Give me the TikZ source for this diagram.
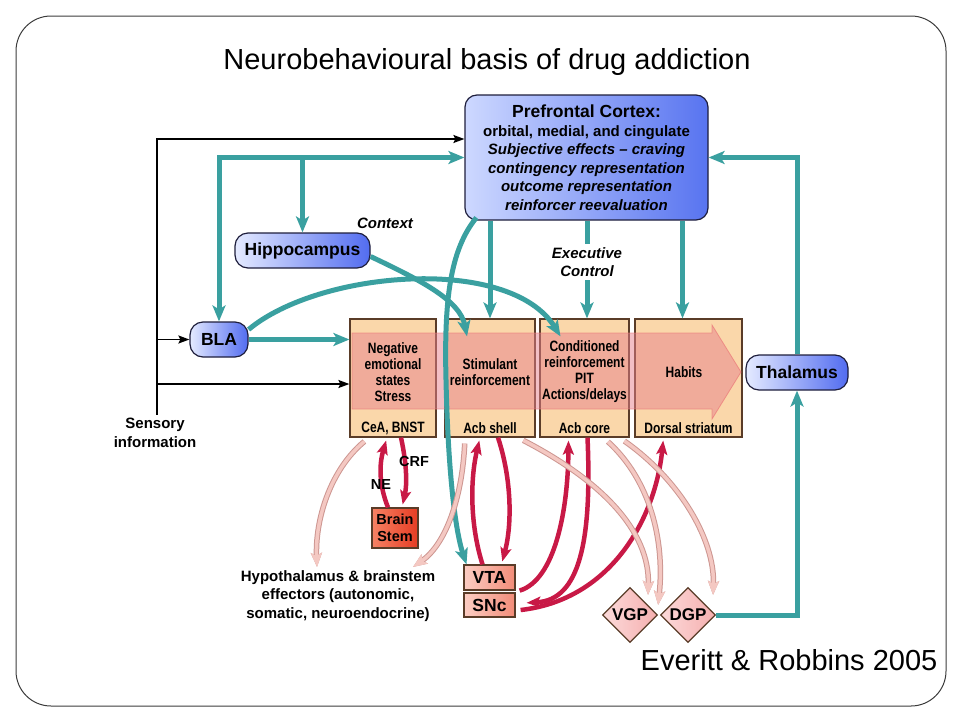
\documentclass[tikz,border=0pt]{standalone}
\usepackage{fontspec}
\setmainfont{Liberation Sans}
\newfontfamily\condfont[FakeStretch=0.8]{Liberation Sans}
\usetikzlibrary{arrows.meta,shapes.geometric}

\definecolor{tealline}{RGB}{58,160,160}
\definecolor{crimson}{RGB}{200,25,70}
\definecolor{pinkfill}{RGB}{244,200,194}
\definecolor{pinkedge}{RGB}{205,150,145}
\definecolor{tanfill}{RGB}{250,215,170}
\definecolor{brownline}{RGB}{90,60,40}
\definecolor{bluelight}{RGB}{228,234,255}
\definecolor{bluedark}{RGB}{82,108,240}
\definecolor{pfclight}{RGB}{205,216,255}
\definecolor{pfcdark}{RGB}{88,116,240}
\definecolor{navyline}{RGB}{30,30,60}
\definecolor{salmonlight}{RGB}{252,205,195}
\definecolor{salmondark}{RGB}{242,140,120}
\definecolor{stemlight}{RGB}{246,130,100}
\definecolor{stemdark}{RGB}{230,60,35}
\definecolor{diamlight}{RGB}{252,218,218}
\definecolor{diamdark}{RGB}{245,175,175}
\definecolor{arrowred}{RGB}{232,128,140}
\definecolor{arrowedge}{RGB}{235,120,120}
\definecolor{framegray}{RGB}{60,60,60}

\tikzset{
  tealtip/.tip={Stealth[length=16pt,width=13pt,inset=4pt]},
  tealarrow/.style={draw=tealline, line width=5pt, -tealtip},
  blackarrow/.style={draw=black, line width=1.8pt, -{Stealth[length=11pt,width=8pt,inset=2pt]}},
  redarrow/.style={draw=crimson, line width=4.5pt, -{Stealth[length=14pt,width=11pt,inset=3pt]}, shorten >=3pt},
  pinkarrow/.style={draw=pinkfill, line width=3.5pt, -{Stealth[length=14pt,width=11pt,inset=3pt]}, shorten <=6pt,
    preaction={draw=pinkedge, line width=5.5pt}},
  overlayarrow/.style={fill=arrowred, fill opacity=0.5, draw=arrowedge, draw opacity=0.7, line width=0.8pt},
  bluebox/.style={draw=navyline, line width=1.2pt, rounded corners=13pt, left color=bluelight, right color=bluedark,
    minimum height=35pt, inner sep=0pt, font=\fontsize{17.5}{20}\selectfont\bfseries},
  pfcbox/.style={draw=navyline, line width=1.2pt, rounded corners=12pt, left color=pfclight, right color=pfcdark,
    minimum width=243pt, minimum height=125pt, align=center, font=\fontsize{15}{18.5}\selectfont\bfseries},
  regionbox/.style={draw=brownline, fill=tanfill, line width=1.2pt, minimum height=118pt, inner sep=0pt},
  regiontext/.style={font=\condfont\fontsize{15}{16}\selectfont\bfseries, align=center},
  regionlabel/.style={font=\condfont\fontsize{15}{16}\selectfont\bfseries},
  namelabel/.style={font=\fontsize{15}{18.5}\selectfont\bfseries, align=center},
  italiclabel/.style={font=\fontsize{15}{18.5}\selectfont\bfseries\itshape, align=center},
  salmonbox/.style={draw=brownline, line width=1.2pt, left color=salmonlight, right color=salmondark,
    minimum width=51pt, inner sep=0pt, font=\fontsize{17.5}{20}\selectfont\bfseries},
  stembox/.style={draw=brownline, line width=1.2pt, left color=stemlight, right color=stemdark,
    minimum width=46pt, minimum height=40pt, inner sep=0pt, align=center, font=\fontsize{14.5}{17}\selectfont\bfseries},
  diamondbox/.style={diamond, aspect=1, draw=brownline, line width=1.2pt, left color=diamlight, right color=diamdark,
    minimum size=55pt, inner sep=0pt, font=\fontsize{17}{20}\selectfont\bfseries}
}

\begin{document}
\begin{tikzpicture}[x=1pt,y=-1pt]
\useasboundingbox (0,0) rectangle (960,720);
\draw[framegray, line width=1pt, rounded corners=35pt] (16,16) rectangle (946,706);

\node[font=\fontsize{29}{32}\selectfont, anchor=base] (title) at (487,69) {Neurobehavioural basis of drug addiction};
\node[font=\fontsize{29}{32}\selectfont, anchor=base] (cite) at (789,670) {Everitt \& Robbins 2005};

% striatal and amygdala regions
\foreach \n/\x/\w/\lab in {cea/393/86/{CeA, BNST}, shell/490/90/Acb shell, core/584.5/89/Acb core, dorsal/688.5/107/Dorsal striatum}{
  \node[regionbox, minimum width=\w pt] (\n) at (\x,378) {};
  \node[regionlabel] (\n-lab) at (\x,428) {\lab};
}
\draw[overlayarrow] (352,333) -- (712,333) -- (712,325) -- (741,372) -- (712,419) -- (712,409) -- (352,409) -- cycle;
\node[regiontext] (cea-text) at (393,372) {Negative\\emotional\\states\\Stress};
\node[regiontext] (shell-text) at (490,372) {Stimulant\\reinforcement};
\node[regiontext] (core-text) at (584.5,372) {Conditioned\\reinforcement\\PIT\\Actions/delays};
\node[regiontext] (dorsal-text) at (684,372) {Habits};

% cortical and limbic inputs
\node[pfcbox] (pfc) at (586.5,157.5) {{\fontsize{17.5}{18.5}\selectfont Prefrontal Cortex:}\\orbital, medial, and cingulate\\
  \itshape Subjective effects -- craving\\\itshape contingency representation\\\itshape outcome representation\\\itshape reinforcer reevaluation};
\node[bluebox, minimum width=135pt] (hippo) at (302.5,250.5) {Hippocampus};
\node[bluebox, minimum width=58pt] (bla) at (219,339.5) {BLA};
\node[bluebox, minimum width=102pt] (thal) at (797,372.5) {Thalamus};
\node[italiclabel] (context) at (385,223) {Context};
\node[italiclabel] (exec) at (587,262) {Executive\\Control};
\node[namelabel] (sens) at (155,433) {Sensory\\information};

% outputs
\node[namelabel] (hypo) at (338,596) {Hypothalamus \& brainstem\\effectors (autonomic,\\somatic, neuroendocrine)};
\node[stembox] (stem) at (395,528) {Brain\\Stem};
\node[salmonbox, minimum height=25pt] (vta) at (489.5,577.5) {VTA};
\node[salmonbox, minimum height=24pt] (snc) at (489.5,605) {SNc};
\node[diamondbox] (vgp) at (630,615) {VGP};
\node[diamondbox] (dgp) at (688,615) {DGP};

% sensory information
\coordinate (senstop) at (157,139);
\coordinate (ceain) at ([yshift=-6pt]cea.west);
\draw[blackarrow] (senstop |- sens.north) -- (senstop) -- (senstop -| pfc.west);
\draw[blackarrow] (senstop |- bla.west) -- (bla.west);
\draw[blackarrow] (senstop |- ceain) -- (ceain);

% teal projections
\coordinate (tealtop) at (bla.north |- pfc.west);
\draw[tealarrow, tealtip-tealtip] (pfc.west) -- (tealtop) -- (bla.north);
\draw[tealarrow] (hippo.north |- pfc.west) -- (hippo.north);
\draw[tealarrow] (bla.east) -- (bla.east -| cea.west);
\draw[tealarrow] ([yshift=10pt]bla.east) .. controls (320,270) and (510,255) .. ([xshift=-24pt,yshift=-18pt]core.north);
\draw[tealarrow] ([yshift=-6pt]hippo.east) .. controls (420,280) and (460,300) .. ([xshift=-23pt,yshift=-18pt]shell.north);
\draw[tealarrow] (pfc.south -| shell.north) -- (shell.north);
\draw[tealline, line width=5pt] (exec.north |- pfc.south) -- (exec.north);
\draw[tealarrow] (exec.south) -- (exec.south |- core.north);
\coordinate (dorsalin) at ([xshift=-6pt]dorsal.north);
\draw[tealarrow] (pfc.south -| dorsalin) -- (dorsalin);
\draw[tealarrow] ([xshift=12pt,yshift=3pt]pfc.south west) .. controls (450,250) and (444,300) .. (446,380)
  .. controls (448,470) and (455,530) .. ([xshift=-23pt]vta.north);
\draw[tealarrow] (thal.north) |- (pfc.east);
\draw[tealarrow] (dgp.east) -| (thal.south);

% dopamine and brainstem loops
\draw[redarrow] ([xshift=-7pt]stem.north) .. controls (379,485) and (379,465) .. ([xshift=-6pt]cea.south);
\draw[redarrow] ([xshift=8pt]cea.south) .. controls (407,465) and (407,485) .. ([xshift=7pt]stem.north);
\draw[redarrow] ([xshift=-7pt]vta.north) .. controls (470,525) and (470,480) .. ([xshift=-10pt]shell.south);
\draw[redarrow] ([xshift=8pt]shell.south) .. controls (512,480) and (512,525) .. ([xshift=12pt]vta.north);
\draw[redarrow] ([xshift=4pt]vta.south east) .. controls (555,580) and (568,510) .. ([xshift=-16pt]core.south);
\draw[redarrow] ([xshift=3pt]core.south) .. controls (592,540) and (580,600) .. ([xshift=8pt,yshift=2pt]snc.east);
\draw[redarrow] ([xshift=5pt,yshift=-5pt]snc.east) .. controls (610,600) and (655,520) .. ([xshift=-25pt]dorsal.south);
\node[namelabel, font=\fontsize{14.5}{16}\selectfont\bfseries] (crf) at (414,462) {CRF};
\node[namelabel, font=\fontsize{14.5}{16}\selectfont\bfseries] (ne) at (381,485) {NE};

% striatal outputs
\draw[pinkarrow] ([xshift=-24pt]cea.south) .. controls (330,470) and (315,520) .. ([xshift=-21pt]hypo.north);
\draw[pinkarrow] ([xshift=-25pt]shell.south) .. controls (462,500) and (445,545) .. ([xshift=75pt]hypo.north);
\draw[pinkarrow] ([xshift=28pt]shell.south) .. controls (600,480) and (650,530) .. ([xshift=4pt,yshift=6pt]vgp.north east);
\draw[pinkarrow] ([xshift=19pt]core.south) .. controls (650,480) and (665,540) .. ([yshift=10pt]vgp.east);
\draw[pinkarrow] ([xshift=35pt]core.south) .. controls (680,480) and (715,540) .. ([xshift=11pt,yshift=6pt]dgp.north east);
\end{tikzpicture}
\end{document}
